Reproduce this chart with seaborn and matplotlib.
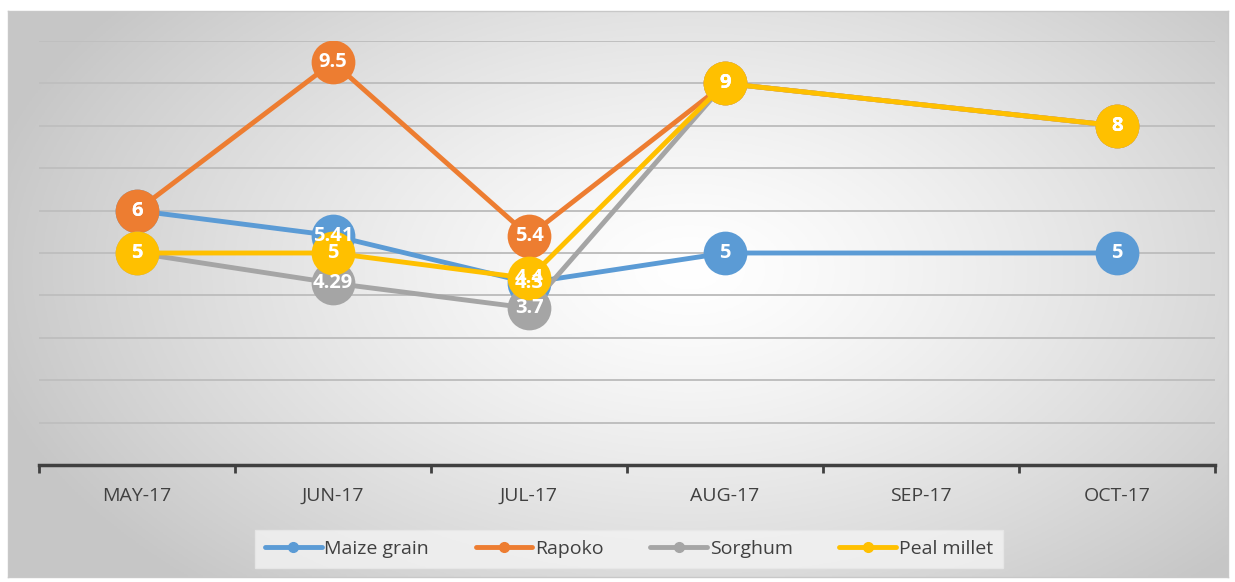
import numpy as np
import pandas as pd
import matplotlib
matplotlib.use("Agg")
import matplotlib.pyplot as plt
import seaborn as sns
from matplotlib.lines import Line2D

months = ["MAY-17", "JUN-17", "JUL-17", "AUG-17", "SEP-17", "OCT-17"]
maize_grain = [6, 5.41, 4.3, 5, np.nan, 5]
rapoko = [6, 9.5, 5.4, 9, np.nan, 8]
sorghum = [5, 4.29, 3.7, 9, np.nan, 8]
peal_millet = [5, 5, 4.4, 9, np.nan, 8]

series_names = ["Maize grain", "Rapoko", "Sorghum", "Peal millet"]
series_values = [maize_grain, rapoko, sorghum, peal_millet]
colors = ["#5B9BD5", "#ED7D31", "#A5A5A5", "#FFC000"]

sns.set_theme(style="white")
plt.rcParams['font.family'] = ['Open Sans', 'DejaVu Sans']

W, H = 1235, 582
fig = plt.figure(figsize=(W / 100, H / 100), dpi=100)
fig.patch.set_facecolor("white")

# background panel with radial gradient
bx0, bx1, by0, by1 = 8, 1228, 11, 577
bg = fig.add_axes([bx0 / W, 1 - by1 / H, (bx1 - bx0) / W, (by1 - by0) / H])
nx, ny = 400, 200
xx, yy = np.meshgrid(np.linspace(bx0, bx1, nx), np.linspace(by0, by1, ny))
d = np.sqrt(((xx - 690) / 720) ** 2 + ((yy - 270) / 430) ** 2)
d = np.clip(d, 0, 1)
g = 1.0 - (1.0 - 0.78) * d ** 1.3
img = np.dstack([g, g, g])
bg.imshow(img, extent=[0, 1, 0, 1], aspect="auto", origin="upper")
bg.set_xticks([]); bg.set_yticks([])
for s in bg.spines.values():
    s.set_color("#c8c8c8"); s.set_linewidth(1)
bg.set_zorder(0)

# main axes
ax0, ax1, ay_top, ay_bot = 39, 1215, 41, 465
ax = fig.add_axes([ax0 / W, 1 - ay_bot / H, (ax1 - ax0) / W, (ay_bot - ay_top) / H])
ax.set_zorder(1)
ax.patch.set_alpha(0)

rows = []
for name, vals in zip(series_names, series_values):
    for i, v in enumerate(vals):
        if not np.isnan(v):
            rows.append({"x": i, "value": v, "series": name})
df = pd.DataFrame(rows)

for y in range(1, 11):
    ax.axhline(y, color="#bfbfbf", lw=1.4, zorder=0)

sns.lineplot(data=df, x="x", y="value", hue="series", hue_order=series_names,
             palette=colors, linewidth=3.5, marker="o", markersize=31.5,
             markeredgewidth=0, ax=ax, legend=False, zorder=2)

for name, vals in zip(series_names, series_values):
    for i, v in enumerate(vals):
        if not np.isnan(v):
            ax.text(i, v, f"{v:g}", ha="center", va="center", color="white",
                    fontsize=14.5, fontweight="bold", zorder=5)

ax.set_xlim(-0.5, 5.5)
ax.set_ylim(0, 10)
ax.set_yticks([])
ax.set_xticks(range(len(months)))
ax.set_xticklabels(months, fontsize=14, color="#404040")
ax.set_xticks(np.arange(-0.5, 6, 1), minor=True)
ax.tick_params(axis="x", which="major", length=0, pad=16)
ax.tick_params(axis="x", which="minor", length=6, width=2, color="#404040", direction="out", bottom=True)
ax.set_xlabel(""); ax.set_ylabel("")
for k in ["top", "left", "right"]:
    ax.spines[k].set_visible(False)
ax.spines["bottom"].set_color("#404040")
ax.spines["bottom"].set_linewidth(2.5)

# legend
handles = [Line2D([0], [0], color=c, lw=3.5, marker="o", markersize=7) for c in colors]
leg = fig.legend(handles, series_names, loc="center", bbox_to_anchor=(629 / W, 1 - 549 / H),
                 ncol=4, frameon=True, fontsize=14, handlelength=2.9, handletextpad=0.15,
                 columnspacing=2.4, borderpad=0.5, borderaxespad=0)
leg.get_frame().set_facecolor("#f3f3f3")
leg.get_frame().set_edgecolor("#e8e8e8")
leg.get_frame().set_boxstyle("square", pad=0)
for t in leg.get_texts():
    t.set_color("#404040")
leg.set_zorder(3)

fig.savefig("out.png", dpi=100)
